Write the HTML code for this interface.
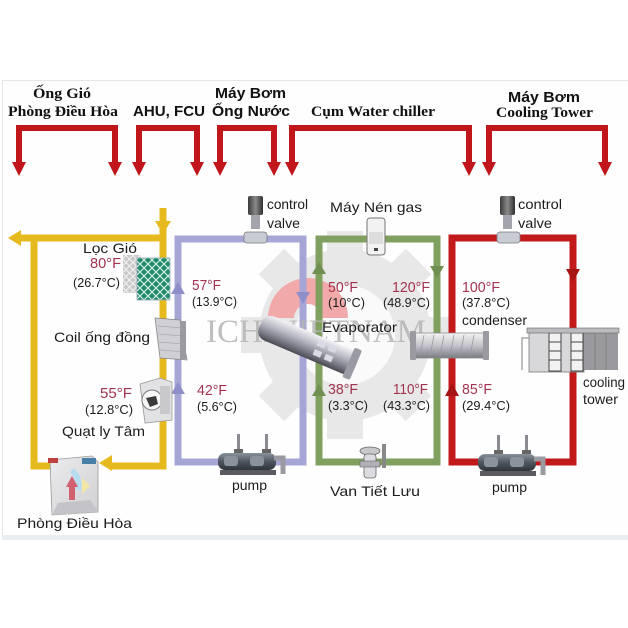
<!DOCTYPE html>
<html><head><meta charset="utf-8">
<style>
html,body{margin:0;padding:0;background:#fff;}
svg{display:block;}
.h{font-family:"Liberation Serif","Noto Serif CJK SC",serif;font-weight:bold;font-size:15px;fill:#111;}
.hs{font-family:"Liberation Sans","Noto Sans CJK SC",sans-serif;font-weight:bold;font-size:15px;fill:#111;}
.t{font-family:"Liberation Sans","Noto Sans CJK SC",sans-serif;font-size:14px;fill:#1c1c1c;}
.f{font-family:"Liberation Sans","Noto Sans CJK SC",sans-serif;font-size:15px;fill:#a3344f;}
.c{font-family:"Liberation Sans","Noto Sans CJK SC",sans-serif;font-size:13px;fill:#1c1c1c;}
</style></head>
<body>
<svg width="628" height="628" viewBox="0 0 628 628" xmlns="http://www.w3.org/2000/svg">
<defs>
<linearGradient id="act" x1="0" x2="1" y1="0" y2="0"><stop offset="0" stop-color="#3a3a3a"/><stop offset="0.5" stop-color="#8a8a8a"/><stop offset="1" stop-color="#2e2e2e"/></linearGradient>
<linearGradient id="cyl" x1="0" x2="0" y1="0" y2="1"><stop offset="0" stop-color="#f4f4f4"/><stop offset="0.5" stop-color="#c4c4ca"/><stop offset="1" stop-color="#7a7a82"/></linearGradient>
<linearGradient id="evap" x1="0" x2="0" y1="0" y2="1"><stop offset="0" stop-color="#f2f2f6"/><stop offset="0.4" stop-color="#b8b8c4"/><stop offset="0.75" stop-color="#7a7a86"/><stop offset="1" stop-color="#4a4a54"/></linearGradient>
<linearGradient id="room" x1="0" x2="1" y1="0" y2="1"><stop offset="0" stop-color="#ececee"/><stop offset="1" stop-color="#d0d0d4"/></linearGradient>
<linearGradient id="pmp" x1="0" x2="0" y1="0" y2="1"><stop offset="0" stop-color="#8a929c"/><stop offset="0.5" stop-color="#4e5660"/><stop offset="1" stop-color="#2e343c"/></linearGradient>
<pattern id="lat" width="8" height="8" patternUnits="userSpaceOnUse"><rect width="8" height="8" fill="#1f8a6a"/><path d="M0,4 L4,0 L8,4 L4,8 Z" fill="none" stroke="#d8efe6" stroke-width="1.2"/></pattern>
<pattern id="latg" width="7" height="7" patternUnits="userSpaceOnUse"><rect width="7" height="7" fill="#c9c9c9"/><path d="M0,3.5 L3.5,0 L7,3.5 L3.5,7 Z" fill="none" stroke="#f2f2f2" stroke-width="1"/></pattern>
</defs>

<!-- frame -->
<rect x="2.5" y="80.5" width="626" height="456" fill="#fefefe" stroke="#e3e7ea" stroke-width="1"/>
<rect x="2" y="535" width="626" height="5" fill="#e8eef2"/>

<!-- headers -->
<text class="h" x="33" y="98" textLength="58" lengthAdjust="spacingAndGlyphs">Ống Gió</text>
<text class="h" x="8" y="116" textLength="110" lengthAdjust="spacingAndGlyphs">Phòng Điều Hòa</text>
<text class="hs" x="133" y="116" textLength="72" lengthAdjust="spacingAndGlyphs">AHU, FCU</text>
<text class="hs" x="215" y="98" textLength="71" lengthAdjust="spacingAndGlyphs">Máy Bơm</text>
<text class="hs" x="212" y="116" textLength="78" lengthAdjust="spacingAndGlyphs">Ống Nước</text>
<text class="h" x="311" y="116" textLength="124" lengthAdjust="spacingAndGlyphs">Cụm Water chiller</text>
<text class="hs" x="508" y="102" textLength="72" lengthAdjust="spacingAndGlyphs">Máy Bơm</text>
<text class="h" x="496" y="117" textLength="97" lengthAdjust="spacingAndGlyphs">Cooling Tower</text>

<!-- red brackets -->
<g fill="none" stroke="#c0161c" stroke-width="6">
<path d="M19,164 V128 H115 V164"/>
<path d="M139,164 V128 H197 V164"/>
<path d="M220,164 V128 H274 V164"/>
<path d="M292,164 V128 H469 V164"/>
<path d="M489,164 V128 H605 V164"/>
</g>
<g fill="#c0161c">
<polygon points="12,162 26,162 19,176"/><polygon points="108,162 122,162 115,176"/>
<polygon points="132,162 146,162 139,176"/><polygon points="190,162 204,162 197,176"/>
<polygon points="213,162 227,162 220,176"/><polygon points="267,162 281,162 274,176"/>
<polygon points="285,162 299,162 292,176"/><polygon points="462,162 476,162 469,176"/>
<polygon points="482,162 496,162 489,176"/><polygon points="598,162 612,162 605,176"/>
</g>

<!-- watermark gear -->
<g transform="translate(345,335)" fill="#e8e8e8">
<circle r="86"/>
<rect x="-18" y="-104" width="36" height="30" transform="rotate(0)"/>
<rect x="-18" y="-104" width="36" height="30" transform="rotate(45)"/>
<rect x="-18" y="-104" width="36" height="30" transform="rotate(90)"/>
<rect x="-18" y="-104" width="36" height="30" transform="rotate(135)"/>
<rect x="-18" y="-104" width="36" height="30" transform="rotate(180)"/>
<rect x="-18" y="-104" width="36" height="30" transform="rotate(225)"/>
<rect x="-18" y="-104" width="36" height="30" transform="rotate(270)"/>
<rect x="-18" y="-104" width="36" height="30" transform="rotate(315)"/>
<circle r="50" fill="#fafafa"/>
</g>
<path d="M268,318 A40,40 0 0 1 348,318 L322,318 A14,14 0 0 0 294,318 Z" fill="#f2a9aa"/>

<!-- yellow air loop -->
<g fill="none" stroke="#e6ba1f" stroke-width="7">
<path d="M20,238 H166"/>
<path d="M34,235 V466 H56"/>
<path d="M163,208 V466 H110"/>
</g>
<g fill="#e6ba1f">
<polygon points="8,238 21,230 21,246"/>
<polygon points="155,221 171,221 163,234"/>
<polygon points="99,463 112,455 112,471"/>
</g>

<!-- purple loop -->
<path d="M178,462 V239 H303 V462 Z" fill="none" stroke="#a6a6d6" stroke-width="7"/>
<g fill="#8e8ec8">
<polygon points="178,282 171,294 185,294"/>
<polygon points="178,382 171,394 185,394"/>
<polygon points="303,304 296,292 310,292"/>
</g>

<!-- green loop -->
<path d="M319,462 V239 H437 V462 Z" fill="none" stroke="#80a060" stroke-width="7"/>
<g fill="#6f9050">
<polygon points="319,262 312,274 326,274"/>
<polygon points="319,384 312,396 326,396"/>
<polygon points="437,278 430,266 444,266"/>
</g>

<!-- red loop -->
<path d="M452,462 V238 H573 V462 Z" fill="none" stroke="#c21a1a" stroke-width="7"/>
<g fill="#a81414">
<polygon points="452,383 445,396 459,396"/>
<polygon points="573,282 566,269 580,269"/>
</g>

<!-- watermark text -->
<text x="206" y="342" font-family="Liberation Serif, serif" font-size="33" fill="#b4b4b4" fill-opacity="0.85" textLength="220" lengthAdjust="spacingAndGlyphs">ICHIVIETNAM</text>

<!-- filter -->
<rect x="123" y="255" width="18" height="38" fill="url(#latg)"/>
<rect x="137" y="258" width="33" height="42" fill="url(#lat)" stroke="#9ab" stroke-width="0.8"/>

<!-- coil -->
<polygon points="155,318 180,320 187,360 160,358" fill="#cfcfd4" stroke="#888" stroke-width="0.8"/>
<g stroke="#a9a9ae" stroke-width="0.8"><line x1="158" y1="326" x2="182" y2="328"/><line x1="159" y1="334" x2="183" y2="336"/><line x1="159" y1="342" x2="184" y2="344"/><line x1="160" y1="350" x2="185" y2="352"/></g>
<rect x="180" y="321" width="6" height="38" fill="#9a9aa0"/>

<!-- fan -->
<path d="M140,384 L160,378 L172,382 L172,420 L145,423 Z" fill="#e2e2e4" stroke="#999" stroke-width="0.8"/>
<circle cx="152" cy="400" r="10" fill="#f6f6f6" stroke="#777" stroke-width="1"/>
<path d="M146,398 L156,396 L158,404 L150,407 Z" fill="#3a3a3a"/>
<rect x="160" y="386" width="10" height="28" fill="#c9c9cc"/>

<!-- room -->
<polygon points="50,460 92,456 98,462 98,512 52,515" fill="url(#room)" stroke="#999" stroke-width="0.8"/>
<polygon points="52,515 98,512 90,500 58,503" fill="#c4c4c8"/>
<rect x="48" y="458" width="10" height="5" fill="#c04040"/>
<rect x="82" y="458" width="14" height="6" fill="#4a7fa8"/>
<path d="M72,470 Q80,478 78,490" stroke="#b8dcef" stroke-width="6" fill="none"/>
<polygon points="66,487 72,476 78,487" fill="#d06070"/><rect x="69" y="486" width="6" height="14" fill="#d06070"/>
<polygon points="82,478 90,486 82,494" fill="#f3e7a8"/>

<!-- control valves -->
<g>
<rect x="248" y="196" width="15" height="19" rx="2" fill="url(#act)"/>
<rect x="251" y="215" width="9" height="14" fill="#a4a4ac"/>
<rect x="244" y="232" width="23" height="11" rx="3" fill="#c9ccd2" stroke="#7a7a80" stroke-width="0.8"/>
<rect x="500" y="196" width="15" height="19" rx="2" fill="url(#act)"/>
<rect x="503" y="215" width="9" height="14" fill="#a4a4ac"/>
<rect x="497" y="232" width="23" height="11" rx="3" fill="#c9ccd2" stroke="#7a7a80" stroke-width="0.8"/>
</g>

<!-- compressor -->
<rect x="367" y="218" width="18" height="37" rx="3" fill="#f2f2f2" stroke="#777" stroke-width="1"/>
<rect x="369" y="232" width="14" height="12" fill="#ddd"/>
<rect x="374" y="248" width="4" height="3" fill="#444"/>

<!-- evaporator -->
<g transform="translate(308,345) rotate(23)">
<rect x="-52" y="-13" width="104" height="26" rx="10" fill="url(#evap)"/>
<g fill="#dadbe4"><rect x="8" y="-9" width="8" height="6"/><rect x="20" y="-9" width="8" height="6"/><rect x="8" y="1" width="8" height="6"/><rect x="20" y="1" width="8" height="6"/></g>
<rect x="44" y="-16" width="8" height="32" rx="2" fill="#9a9aa4"/>
</g>

<!-- condenser -->
<rect x="412" y="333" width="76" height="25" rx="3" fill="url(#cyl)" stroke="#888" stroke-width="0.8"/>
<g stroke="#9a9aa2" stroke-width="0.8"><line x1="424" y1="335" x2="420" y2="356"/><line x1="434" y1="335" x2="430" y2="356"/><line x1="444" y1="335" x2="440" y2="356"/><line x1="454" y1="335" x2="450" y2="356"/><line x1="464" y1="335" x2="460" y2="356"/><line x1="474" y1="335" x2="470" y2="356"/></g>
<rect x="410" y="331" width="6" height="29" rx="1" fill="#9a9aa0"/>
<rect x="483" y="331" width="6" height="29" rx="1" fill="#9a9aa0"/>

<!-- cooling tower -->
<rect x="529" y="331" width="55" height="41" fill="#d8d8da" stroke="#777" stroke-width="0.8"/>
<rect x="584" y="333" width="34" height="37" fill="#9a9a9e"/>
<g stroke="#777" stroke-width="0.7" fill="none"><line x1="595" y1="334" x2="595" y2="370"/><line x1="606" y1="334" x2="606" y2="370"/></g>
<rect x="549" y="333" width="12" height="38" fill="#f2f2f2" stroke="#444" stroke-width="1"/>
<rect x="571" y="333" width="12" height="38" fill="#f2f2f2" stroke="#444" stroke-width="1"/>
<g stroke="#444" stroke-width="1"><line x1="549" y1="342" x2="561" y2="342"/><line x1="549" y1="351" x2="561" y2="351"/><line x1="549" y1="360" x2="561" y2="360"/><line x1="571" y1="342" x2="583" y2="342"/><line x1="571" y1="351" x2="583" y2="351"/><line x1="571" y1="360" x2="583" y2="360"/></g>
<rect x="527" y="328" width="92" height="5" fill="#bcbcc0" stroke="#666" stroke-width="0.6"/>
<path d="M529,338 H522 V370" stroke="#aaa" stroke-width="1.5" fill="none"/>

<!-- pumps -->
<g>
<rect x="237" y="434" width="3" height="22" fill="#8a8a90"/><rect x="265" y="434" width="3" height="22" fill="#8a8a90"/>
<rect x="234" y="449" width="9" height="4" fill="#666"/><rect x="262" y="449" width="9" height="4" fill="#666"/>
<rect x="218" y="453" width="58" height="17" rx="7" fill="url(#pmp)"/>
<rect x="224" y="456" width="14" height="10" rx="3" fill="#8a929c"/><rect x="250" y="456" width="14" height="10" rx="3" fill="#8a929c"/>
<path d="M274,458 H283 V474" stroke="#9a9aa0" stroke-width="5" fill="none"/>
<rect x="220" y="470" width="56" height="5" fill="#5a5a60"/>
</g>
<g transform="translate(260,1)">
<rect x="237" y="434" width="3" height="22" fill="#8a8a90"/><rect x="265" y="434" width="3" height="22" fill="#8a8a90"/>
<rect x="234" y="449" width="9" height="4" fill="#666"/><rect x="262" y="449" width="9" height="4" fill="#666"/>
<rect x="218" y="453" width="58" height="17" rx="7" fill="url(#pmp)"/>
<rect x="224" y="456" width="14" height="10" rx="3" fill="#8a929c"/><rect x="250" y="456" width="14" height="10" rx="3" fill="#8a929c"/>
<path d="M274,458 H283 V474" stroke="#9a9aa0" stroke-width="5" fill="none"/>
<rect x="220" y="470" width="56" height="5" fill="#5a5a60"/>
</g>

<!-- expansion valve -->
<ellipse cx="370" cy="451" rx="10" ry="4" fill="#c8c8cc" stroke="#666" stroke-width="0.8"/>
<rect x="364" y="454" width="12" height="24" rx="3" fill="#dcdce0" stroke="#666" stroke-width="0.8"/>
<rect x="360" y="461" width="20" height="6" fill="#b0b0b6" stroke="#666" stroke-width="0.6"/>
<rect x="382" y="444" width="4" height="24" fill="#888"/>

<!-- labels -->
<text class="t" x="83" y="253" textLength="54" lengthAdjust="spacingAndGlyphs">Lọc Gió</text>
<text class="f" x="90" y="268" textLength="31" lengthAdjust="spacingAndGlyphs">80°F</text>
<text class="c" x="73" y="287" textLength="47" lengthAdjust="spacingAndGlyphs">(26.7°C)</text>
<text class="f" x="192" y="290" textLength="29" lengthAdjust="spacingAndGlyphs">57°F</text>
<text class="c" x="192" y="306" textLength="45" lengthAdjust="spacingAndGlyphs">(13.9°C)</text>
<text class="t" x="54" y="342" textLength="96" lengthAdjust="spacingAndGlyphs">Coil ống đồng</text>
<text class="f" x="100" y="398" textLength="32" lengthAdjust="spacingAndGlyphs">55°F</text>
<text class="c" x="85" y="414" textLength="48" lengthAdjust="spacingAndGlyphs">(12.8°C)</text>
<text class="t" x="62" y="436" textLength="83" lengthAdjust="spacingAndGlyphs">Quạt ly Tâm</text>
<text class="f" x="197" y="395" textLength="30" lengthAdjust="spacingAndGlyphs">42°F</text>
<text class="c" x="197" y="411" textLength="40" lengthAdjust="spacingAndGlyphs">(5.6°C)</text>
<text class="t" x="232" y="490" textLength="35" lengthAdjust="spacingAndGlyphs">pump</text>
<text class="t" x="17" y="528" font-size="15" textLength="115" lengthAdjust="spacingAndGlyphs">Phòng Điều Hòa</text>
<text class="t" x="267" y="209" textLength="41" lengthAdjust="spacingAndGlyphs">control</text>
<text class="t" x="267" y="228" textLength="33" lengthAdjust="spacingAndGlyphs">valve</text>
<text class="t" x="330" y="212" textLength="92" lengthAdjust="spacingAndGlyphs">Máy Nén gas</text>
<text class="t" x="518" y="209" textLength="44" lengthAdjust="spacingAndGlyphs">control</text>
<text class="t" x="518" y="228" textLength="34" lengthAdjust="spacingAndGlyphs">valve</text>
<text class="f" x="328" y="292" textLength="30" lengthAdjust="spacingAndGlyphs">50°F</text>
<text class="c" x="328" y="307" textLength="37" lengthAdjust="spacingAndGlyphs">(10°C)</text>
<text class="f" x="392" y="292" textLength="38" lengthAdjust="spacingAndGlyphs">120°F</text>
<text class="c" x="383" y="307" textLength="47" lengthAdjust="spacingAndGlyphs">(48.9°C)</text>
<text class="f" x="462" y="292" textLength="38" lengthAdjust="spacingAndGlyphs">100°F</text>
<text class="c" x="462" y="307" textLength="48" lengthAdjust="spacingAndGlyphs">(37.8°C)</text>
<text class="t" x="462" y="325" textLength="65" lengthAdjust="spacingAndGlyphs">condenser</text>
<text class="t" x="322" y="332" textLength="75" lengthAdjust="spacingAndGlyphs">Evaporator</text>
<text class="f" x="328" y="394" textLength="30" lengthAdjust="spacingAndGlyphs">38°F</text>
<text class="c" x="328" y="410" textLength="40" lengthAdjust="spacingAndGlyphs">(3.3°C)</text>
<text class="f" x="393" y="394" textLength="35" lengthAdjust="spacingAndGlyphs">110°F</text>
<text class="c" x="383" y="410" textLength="47" lengthAdjust="spacingAndGlyphs">(43.3°C)</text>
<text class="f" x="462" y="394" textLength="30" lengthAdjust="spacingAndGlyphs">85°F</text>
<text class="c" x="462" y="410" textLength="48" lengthAdjust="spacingAndGlyphs">(29.4°C)</text>
<text class="t" x="583" y="387" textLength="42" lengthAdjust="spacingAndGlyphs">cooling</text>
<text class="t" x="583" y="404" textLength="35" lengthAdjust="spacingAndGlyphs">tower</text>
<text class="t" x="330" y="496" font-size="15" textLength="90" lengthAdjust="spacingAndGlyphs">Van Tiết Lưu</text>
<text class="t" x="492" y="492" textLength="35" lengthAdjust="spacingAndGlyphs">pump</text>
</svg>
</body></html>
